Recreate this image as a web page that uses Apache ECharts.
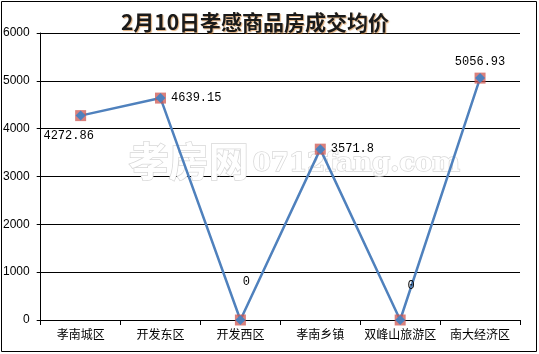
<!DOCTYPE html>
<html>
<head>
<meta charset="utf-8">
<script src="https://cdn.jsdelivr.net/npm/echarts@6/dist/echarts.min.js"></script>
<style>
  html, body { margin: 0; padding: 0; background: #fff; }
  #chart { width: 539px; height: 354px; }
</style>
</head>
<body>
<div id="chart"></div>
<script>
var categories = ['孝南城区', '开发东区', '开发西区', '孝南乡镇', '双峰山旅游区', '南大经济区'];
var prices = [4272.86, 4639.15, 0, 3571.8, 0, 5056.93];
var yTicks = { min: 0, max: 6000, interval: 1000 };

// label placement per point, as in the original
var labelPos = [
    { position: 'bottom', offset: [-12, 4] },
    { position: 'right', offset: [0, 0] },
    { position: 'top', offset: [6, -22] },
    { position: 'right', offset: [0, 0] },
    { position: 'top', offset: [11, -18] },
    { position: 'top', offset: [0, 0] }
];

var chart = echarts.init(document.getElementById('chart'));

var lineData = prices.map(function (v, i) {
    return {
        value: v,
        label: {
            show: true,
            position: labelPos[i].position,
            offset: labelPos[i].offset,
            formatter: function (p) { return String(p.value); },
            fontFamily: 'Liberation Mono',
            fontSize: 12,
            color: '#000'
        }
    };
});

var option = {
    animation: false,
    backgroundColor: '#fff',
    title: {
        text: '2月10日孝感商品房成交均价',
        left: 250,
        textAlign: 'center',
        top: 7,
        textStyle: {
            fontFamily: 'Noto Sans CJK SC',
            fontWeight: 'bold',
            fontSize: 21,
            color: '#1a1a1a',
            textShadowColor: 'rgba(200,120,40,0.6)',
            textShadowOffsetX: 1,
            textShadowOffsetY: 1,
            textShadowBlur: 1
        }
    },
    graphic: [
        {
            type: 'rect',
            shape: { x: 1.5, y: 1.5, width: 535, height: 350 },
            style: { fill: 'none', stroke: '#000', lineWidth: 1 },
            z: 0
        },
        {
            type: 'text',
            left: 128,
            top: 140,
            style: {
                text: '孝房网',
                font: 'bold 40px "Noto Sans CJK SC"',
                fill: '#fff',
                stroke: '#d8d8d8',
                lineWidth: 1.5
            },
            z: 1
        },
        {
            type: 'text',
            left: 252,
            top: 150,
            style: {
                text: '0712fang.com',
                font: 'bold 26px "DejaVu Serif"',
                fill: '#fff',
                stroke: '#d8d8d8',
                lineWidth: 1.5
            },
            z: 1
        }
    ],
    grid: { left: 40, right: 19, top: 33, bottom: 34 },
    xAxis: {
        type: 'category',
        data: categories,
        boundaryGap: true,
        axisLine: { lineStyle: { color: '#000', width: 1 } },
        axisTick: { show: true, length: 5, lineStyle: { color: '#000' } },
        axisLabel: {
            fontFamily: 'Noto Sans CJK SC',
            fontSize: 12,
            color: '#000',
            margin: 8,
            interval: 0
        }
    },
    yAxis: {
        type: 'value',
        min: yTicks.min,
        max: yTicks.max,
        interval: yTicks.interval,
        axisLine: { show: true, lineStyle: { color: '#000', width: 1 } },
        axisTick: { show: true, length: 4, lineStyle: { color: '#000' } },
        splitLine: { show: true, lineStyle: { color: '#000', width: 1 } },
        axisLabel: {
            fontFamily: 'Liberation Sans',
            fontSize: 12,
            color: '#000',
            margin: 11,
            formatter: function (v) { return String(v); }
        }
    },
    series: [
        {
            name: '均价',
            type: 'line',
            data: lineData,
            symbol: 'rect',
            symbolSize: 11,
            lineStyle: { color: '#4f81bd', width: 2.5 },
            itemStyle: { color: 'rgba(205,85,80,0.75)', borderWidth: 0 },
            z: 3
        },
        {
            name: 'diamond',
            type: 'line',
            data: prices,
            symbol: 'diamond',
            symbolSize: 10,
            lineStyle: { width: 0, opacity: 0 },
            itemStyle: { color: '#4f81bd' },
            label: { show: false },
            silent: true,
            z: 4
        }
    ]
};

chart.setOption(option);
</script>
</body>
</html>
